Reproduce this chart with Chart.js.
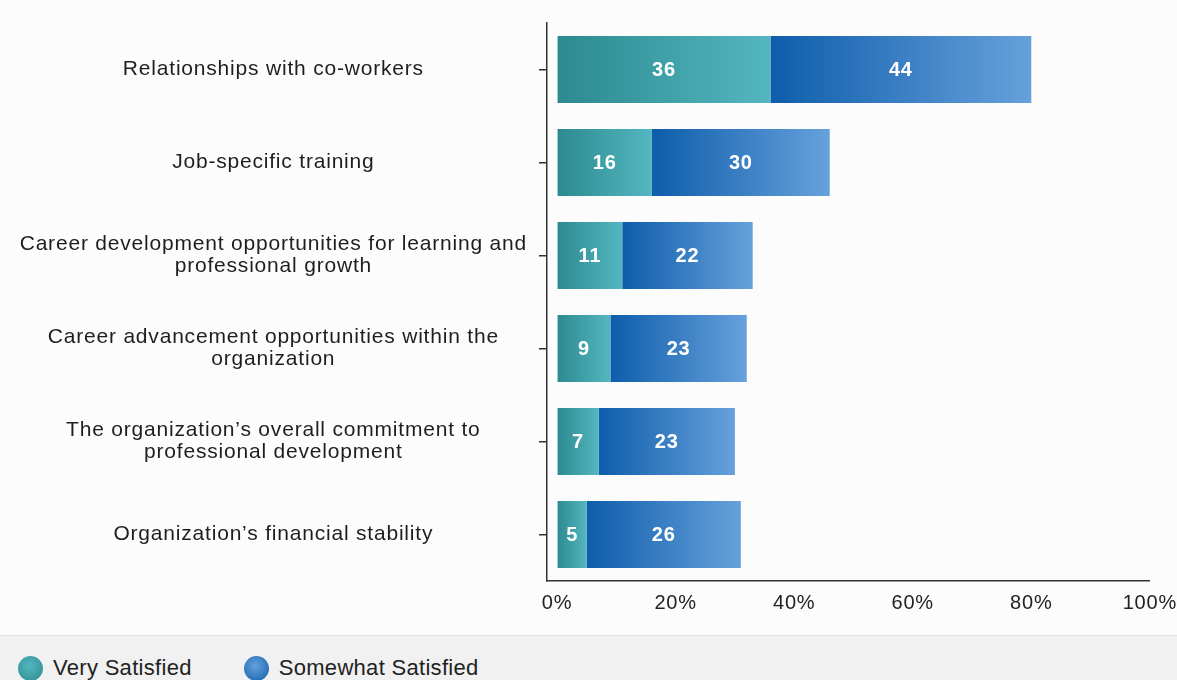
<!DOCTYPE html>
<html>
<head>
<meta charset="utf-8">
<title>Satisfaction</title>
<script src="https://cdn.jsdelivr.net/npm/chart.js@4.4.1/dist/chart.umd.min.js"></script>
<style>
  html, body { margin: 0; padding: 0; background: #fcfcfc; }
  body { width: 1177px; height: 680px; overflow: hidden; font-family: "Liberation Sans", Arial, sans-serif; }
  #chart-box { width: 1177px; height: 635px; }
  #legend {
    box-sizing: border-box;
    height: 45px;
    padding: 20px 0 0 18px;
    border-top: 1px solid #e0e0e0;
    background: #f1f1f1;
    display: flex;
    align-items: center;
  }
  .item { display: flex; align-items: center; margin-right: 52px; }
  .dot { width: 25px; height: 25px; border-radius: 50%; margin-right: 10px; }
  .label { font-size: 22px; color: #222; letter-spacing: 0.3px; }
</style>
</head>
<body>
<div id="chart-box"><canvas id="satisfactionChart" width="1177" height="635"></canvas></div>
<div id="legend"></div>
<script>
const categories = [
  "Relationships with co-workers",
  "Job-specific training",
  ["Career development opportunities for learning and", "professional growth"],
  ["Career advancement opportunities within the", "organization"],
  ["The organization\u2019s overall commitment to", "professional development"],
  "Organization\u2019s financial stability"
];
const seriesNames = ["Very Satisfied", "Somewhat Satisfied"];
const verySatisfied = [36, 16, 11, 9, 7, 5];
const somewhatSatisfied = [44, 30, 22, 23, 23, 26];
const xTicks = [0, 20, 40, 60, 80, 100];

const FONT = '"Liberation Sans", Arial, sans-serif';
// dark -> light shade for each segment
const shades = [
  ["#2c8a8f", "#54b6c0"],
  ["#0e5dab", "#66a1db"]
];

// each bar segment runs from its dark shade on the left to the light one on the right
function segmentFill(ctx) {
  const chart = ctx.chart;
  const [dark, light] = shades[ctx.datasetIndex];
  const x = chart.scales.x;
  if (!chart.chartArea || !x || ctx.dataIndex === undefined) return dark;
  let start = 0;
  for (let d = 0; d < ctx.datasetIndex; d++) start += chart.data.datasets[d].data[ctx.dataIndex];
  const end = start + chart.data.datasets[ctx.datasetIndex].data[ctx.dataIndex];
  const x0 = x.getPixelForValue(start);
  const x1 = x.getPixelForValue(end);
  if (!isFinite(x0) || !isFinite(x1) || x1 <= x0) return dark;
  const g = chart.ctx.createLinearGradient(x0, 0, x1, 0);
  g.addColorStop(0, dark);
  g.addColorStop(1, light);
  return g;
}

// white numbers in the middle of every segment
const barValueLabels = {
  id: "barValueLabels",
  afterDatasetsDraw(chart) {
    const ctx = chart.ctx;
    ctx.save();
    ctx.font = "bold 20px " + FONT;
    ctx.fillStyle = "#ffffff";
    ctx.textAlign = "center";
    ctx.textBaseline = "middle";
    chart.data.datasets.forEach((ds, di) => {
      chart.getDatasetMeta(di).data.forEach((bar, i) => {
        ctx.fillText(String(ds.data[i]), (bar.x + bar.base) / 2, bar.y + 1);
      });
    });
    ctx.restore();
  }
};

// slightly wider text spacing for all canvas text
const textSpacing = {
  id: "textSpacing",
  beforeUpdate(chart) { chart.ctx.letterSpacing = "0.8px"; },
  beforeDraw(chart) { chart.ctx.letterSpacing = "0.8px"; }
};

const chart = new Chart(document.getElementById("satisfactionChart"), {
  type: "bar",
  data: {
    labels: categories,
    datasets: [
      { label: seriesNames[0], data: verySatisfied, backgroundColor: segmentFill, borderWidth: 0 },
      { label: seriesNames[1], data: somewhatSatisfied, backgroundColor: segmentFill, borderWidth: 0 }
    ]
  },
  options: {
    indexAxis: "y",
    responsive: false,
    animation: false,
    barPercentage: 0.72,
    categoryPercentage: 1,
    layout: { padding: { top: 20, bottom: 20, left: 0, right: 0 } },
    plugins: {
      legend: { display: false },
      tooltip: { enabled: false }
    },
    scales: {
      x: {
        stacked: true,
        min: -1.7,
        max: 100,
        afterBuildTicks(axis) { axis.ticks = xTicks.map(v => ({ value: v })); },
        // invisible tick marks just keep the labels off the axis line
        grid: { drawOnChartArea: false, drawTicks: true, tickLength: 10, color: "rgba(0,0,0,0)" },
        border: { display: true, color: "#333", width: 1.5 },
        ticks: {
          autoSkip: false,
          maxRotation: 0,
          padding: 0,
          color: "#222",
          font: { family: FONT, size: 20 },
          callback: v => v + "%"
        }
      },
      y: {
        stacked: true,
        afterFit(scale) { scale.width = 547; },
        grid: { offset: false, drawOnChartArea: false, drawTicks: true, tickLength: 8, color: "#333", lineWidth: 1.5 },
        border: { display: true, color: "#333", width: 1.5 },
        ticks: {
          crossAlign: "center",
          padding: 12,
          color: "#1e1e1e",
          font: { family: FONT, size: 21, lineHeight: 1.05 }
        }
      }
    }
  },
  plugins: [textSpacing, barValueLabels]
});

// legend under the chart, built from the datasets
const legendBox = document.getElementById("legend");
chart.data.datasets.forEach((ds, i) => {
  const item = document.createElement("div");
  item.className = "item";
  const dot = document.createElement("span");
  dot.className = "dot";
  dot.style.background = `radial-gradient(circle at 45% 40%, ${shades[i][1]}, ${shades[i][0]})`;
  const label = document.createElement("span");
  label.className = "label";
  label.textContent = ds.label;
  item.appendChild(dot);
  item.appendChild(label);
  legendBox.appendChild(item);
});
</script>
</body>
</html>
